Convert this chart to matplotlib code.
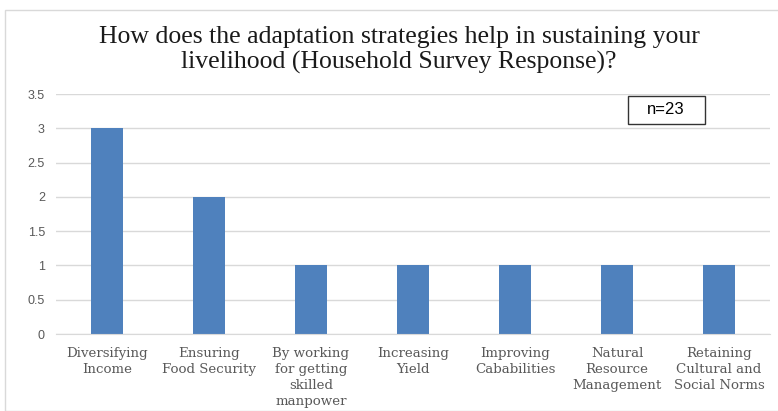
import matplotlib.pyplot as plt
from matplotlib.patches import Rectangle

categories = ["Diversifying\nIncome", "Ensuring\nFood Security", "By working\nfor getting\nskilled\nmanpower",
              "Increasing\nYield", "Improving\nCababilities", "Natural\nResource\nManagement",
              "Retaining\nCultural and\nSocial Norms"]
values = [3, 2, 1, 1, 1, 1, 1]
yticks = [0, 0.5, 1, 1.5, 2, 2.5, 3, 3.5]

BAR = "#4F81BD"
GRID = "#D9D9D9"

fig = plt.figure(figsize=(7.78, 4.11), dpi=100)
fig.patch.set_facecolor("white")
fig.patches.append(Rectangle((5/778, 0), 1, 1 - 10/411, transform=fig.transFigure,
                             fill=False, edgecolor=GRID, linewidth=1))

ax = fig.add_axes([56/778, (411-334)/411, (770-56)/778, (334-94)/411])
x = range(len(categories))
ax.bar(x, values, width=0.31, color=BAR, zorder=2)
ax.set_xlim(-0.5, len(categories) - 0.5)
ax.set_ylim(0, 3.5)
ax.set_yticks(yticks)
ax.set_yticklabels([f"{t:g}" for t in yticks], family="Liberation Sans", fontsize=9, color="#595959")
ax.set_xticks(list(x))
ax.set_xticklabels(categories, family="DejaVu Serif", fontsize=9.6, color="#595959", linespacing=1.3)
ax.tick_params(length=0, pad=8)
ax.tick_params(axis="x", pad=9)
ax.grid(axis="y", color=GRID, linewidth=1, zorder=0)
for s in ["top", "right", "left"]:
    ax.spines[s].set_visible(False)
ax.spines["bottom"].set_color(GRID)

fig.text(399/778, 1 - 50/411, "How does the adaptation strategies help in sustaining your\nlivelihood (Household Survey Response)?",
         ha="center", va="center", family="Liberation Serif", fontsize=18.5, color="#1a1a1a", linespacing=1.15)

fig.patches.append(Rectangle((628/778, 1 - 124/411), 77/778, 28/411, transform=fig.transFigure,
                             facecolor="white", edgecolor="#333333", linewidth=1, zorder=5))
fig.text(666/778, 1 - 110/411, "n=23", ha="center", va="center", zorder=6,
         family="Liberation Sans", fontsize=12, color="black")

fig.savefig("out.png", dpi=100, facecolor="white")
